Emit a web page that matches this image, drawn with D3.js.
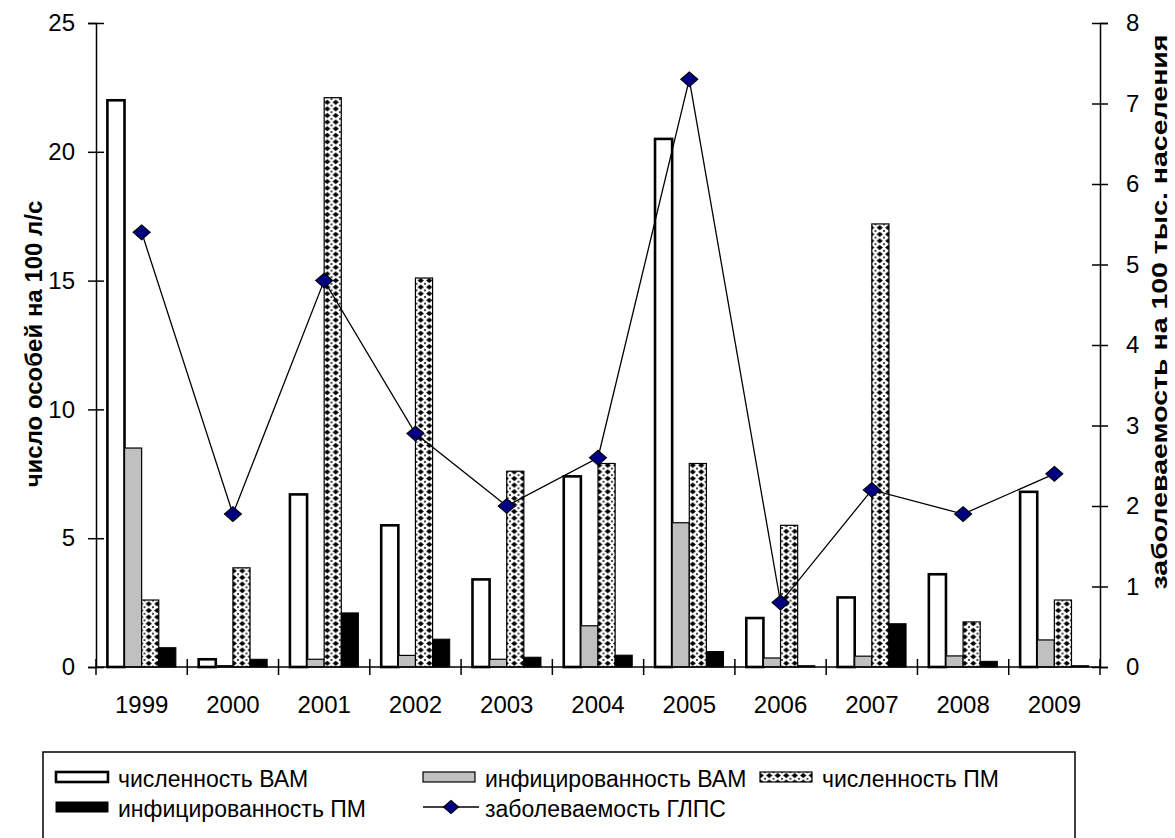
<!DOCTYPE html>
<html>
<head>
<meta charset="utf-8">
<script src="https://cdn.jsdelivr.net/npm/d3@7"></script>
<style>
  body { margin: 0; background: #fff; }
  text { font-family: "Liberation Sans", Arial, sans-serif; }
</style>
</head>
<body>
<svg id="chart"></svg>
<script>
// data
const years = ["1999", "2000", "2001", "2002", "2003", "2004", "2005", "2006", "2007", "2008", "2009"];
const numVAM = [22.0, 0.3, 6.7, 5.5, 3.4, 7.4, 20.5, 1.9, 2.7, 3.6, 6.8];
const infVAM = [8.5, 0.05, 0.3, 0.45, 0.3, 1.6, 5.6, 0.35, 0.42, 0.43, 1.05];
const numPM = [2.6, 3.85, 22.1, 15.1, 7.6, 7.9, 7.9, 5.5, 17.2, 1.75, 2.6];
const infPM = [0.75, 0.3, 2.1, 1.08, 0.38, 0.46, 0.6, 0.05, 1.68, 0.22, 0.05];
const glps = [5.4, 1.9, 4.8, 2.9, 2.0, 2.6, 7.3, 0.8, 2.2, 1.9, 2.4];
const leftTicks = [0, 5, 10, 15, 20, 25];
const rightTicks = [0, 1, 2, 3, 4, 5, 6, 7, 8];

const width = 1175;
const height = 838;
const svg = d3.select("#chart").attr("width", width).attr("height", height);

const plotLeft = 96, plotRight = 1100, plotTop = 23, plotBottom = 667;

// diamond fill pattern for "численность ПМ"
const defs = svg.append("defs");
const pat = defs.append("pattern")
  .attr("id", "dots")
  .attr("patternUnits", "userSpaceOnUse")
  .attr("width", 8.5).attr("height", 6.6)
  .attr("x", 0).attr("y", 0);
pat.append("rect").attr("width", 8.5).attr("height", 6.6).attr("fill", "#fff");
pat.append("path")
  .attr("d", "M4.25,0.6 L7.4,3.3 L4.25,6.0 L1.1,3.3 Z")
  .attr("fill", "#000");
pat.append("path")
  .attr("d", "M0,0 L1.2,0 L0,1.2 Z M8.5,0 L7.3,0 L8.5,1.2 Z M0,6.6 L1.2,6.6 L0,5.4 Z M8.5,6.6 L7.3,6.6 L8.5,5.4 Z")
  .attr("fill", "#000");

const x = d3.scaleBand().domain(years).range([plotLeft, plotRight]).paddingInner(0);
const inner = d3.scaleBand()
  .domain(["numVAM", "infVAM", "numPM", "infPM"])
  .range([0, x.bandwidth()])
  .paddingOuter(0.665)
  .paddingInner(0);
const y = d3.scaleLinear().domain([0, 25]).range([plotBottom, plotTop]);
const y2 = d3.scaleLinear().domain([0, 8]).range([plotBottom, plotTop]);

const series = [
  { key: "numVAM", values: numVAM, fill: "#fff", stroke: "#000", sw: 2.6 },
  { key: "infVAM", values: infVAM, fill: "#c0c0c0", stroke: "#000", sw: 1.2 },
  { key: "numPM", values: numPM, fill: "url(#dots)", stroke: "#000", sw: 1.2 },
  { key: "infPM", values: infPM, fill: "#000", stroke: "#000", sw: 1 }
];

// Draw bars for each series
series.forEach(s => {
  svg.append("g")
    .selectAll("rect")
    .data(s.values)
    .enter().append("rect")
      .attr("x", (d, i) => x(years[i]) + inner(s.key))
      .attr("y", d => y(d))
      .attr("width", inner.bandwidth())
      .attr("height", d => plotBottom - y(d))
      .attr("fill", s.fill)
      .attr("stroke", s.stroke)
      .attr("stroke-width", s.sw);
});

// axes
const axisFont = "24px";
const leftAxis = svg.append("g")
  .attr("transform", `translate(${plotLeft},0)`)
  .call(d3.axisLeft(y).tickValues(leftTicks).tickSize(8).tickPadding(13));
leftAxis.selectAll(".tick line").attr("x2", 8).attr("x1", -8);
const rightAxis = svg.append("g")
  .attr("transform", `translate(${plotRight},0)`)
  .call(d3.axisRight(y2).tickValues(rightTicks).tickSize(8).tickPadding(18));
rightAxis.selectAll(".tick line").attr("x1", -8).attr("x2", 8);

const bottomAxis = svg.append("g")
  .attr("transform", `translate(0,${plotBottom})`)
  .call(d3.axisBottom(x).tickSize(0).tickPadding(29));
// category separators
svg.append("g")
  .selectAll("line")
  .data(years.concat(["end"]))
  .enter().append("line")
    .attr("x1", (d, i) => plotLeft + i * x.step())
    .attr("x2", (d, i) => plotLeft + i * x.step())
    .attr("y1", plotBottom - 8)
    .attr("y2", plotBottom + 8)
    .attr("stroke", "#000")
    .attr("stroke-width", 1.5);

[leftAxis, rightAxis, bottomAxis].forEach(a => {
  a.selectAll("path.domain").attr("stroke", "#000").attr("stroke-width", 1.5);
  a.selectAll(".tick line").attr("stroke", "#000").attr("stroke-width", 1.5);
  a.selectAll("text")
    .style("font-size", axisFont)
    .style("font-family", "'Liberation Sans', Arial, sans-serif")
    .attr("fill", "#000");
});
bottomAxis.select("path.domain").attr("d", `M${plotLeft},0H${plotRight}`);

// axis titles
svg.append("text")
  .attr("transform", "translate(42,344) rotate(-90)")
  .attr("text-anchor", "middle")
  .style("font-size", "24px")
  .style("font-weight", "bold")
  .text("число особей на 100 л/с");
svg.append("text")
  .attr("transform", "translate(1167,312) rotate(-90)")
  .attr("text-anchor", "middle")
  .attr("textLength", 555)
  .attr("lengthAdjust", "spacingAndGlyphs")
  .style("font-size", "22px")
  .style("font-weight", "bold")
  .text("заболеваемость на 100 тыс. населения");

// ГЛПС line
const line = d3.line()
  .x((d, i) => x(years[i]) + x.bandwidth() / 2)
  .y(d => y2(d));
svg.append("path")
  .datum(glps)
  .attr("d", line)
  .attr("fill", "none")
  .attr("stroke", "#000")
  .attr("stroke-width", 1.3);
svg.append("g")
  .selectAll("path")
  .data(glps)
  .enter().append("path")
    .attr("d", d3.symbol(d3.symbolDiamond2, 140))
    .attr("transform", (d, i) => `translate(${x(years[i]) + x.bandwidth() / 2},${y2(d)}) scale(1.15,1)`)
    .attr("fill", "#000080")
    .attr("stroke", "#000")
    .attr("stroke-width", 1);

// legend
const legend = svg.append("g");
legend.append("rect")
  .attr("x", 43).attr("y", 752)
  .attr("width", 1032).attr("height", 100)
  .attr("fill", "#fff").attr("stroke", "#000").attr("stroke-width", 1.5);

const legendItems = [
  { label: "численность ВАМ", x: 56, y: 777, fill: "#fff", sw: 2.6, type: "bar" },
  { label: "инфицированность ВАМ", x: 423, y: 777, fill: "#c0c0c0", sw: 1.2, type: "bar" },
  { label: "численность ПМ", x: 760, y: 777, fill: "url(#dots)", sw: 1.2, type: "bar" },
  { label: "инфицированность ПМ", x: 56, y: 807, fill: "#000", sw: 1, type: "bar" },
  { label: "заболеваемость ГЛПС", x: 423, y: 807, type: "line" }
];
legendItems.forEach(it => {
  const g = legend.append("g");
  if (it.type === "bar") {
    g.append("rect")
      .attr("x", it.x).attr("y", it.y - 5)
      .attr("width", 52).attr("height", 10)
      .attr("fill", it.fill).attr("stroke", "#000").attr("stroke-width", it.sw);
  } else {
    g.append("line")
      .attr("x1", it.x).attr("x2", it.x + 56)
      .attr("y1", it.y).attr("y2", it.y)
      .attr("stroke", "#000").attr("stroke-width", 1.3);
    g.append("path")
      .attr("d", d3.symbol(d3.symbolDiamond2, 110))
      .attr("transform", `translate(${it.x + 28},${it.y}) scale(1.15,1)`)
      .attr("fill", "#000080").attr("stroke", "#000");
  }
  g.append("text")
    .attr("x", it.x + (it.type === "bar" ? 62 : 62))
    .attr("y", it.y + 2)
    .attr("dy", "0.35em")
    .style("font-size", "23px")
    .text(it.label);
});
</script>
</body>
</html>
